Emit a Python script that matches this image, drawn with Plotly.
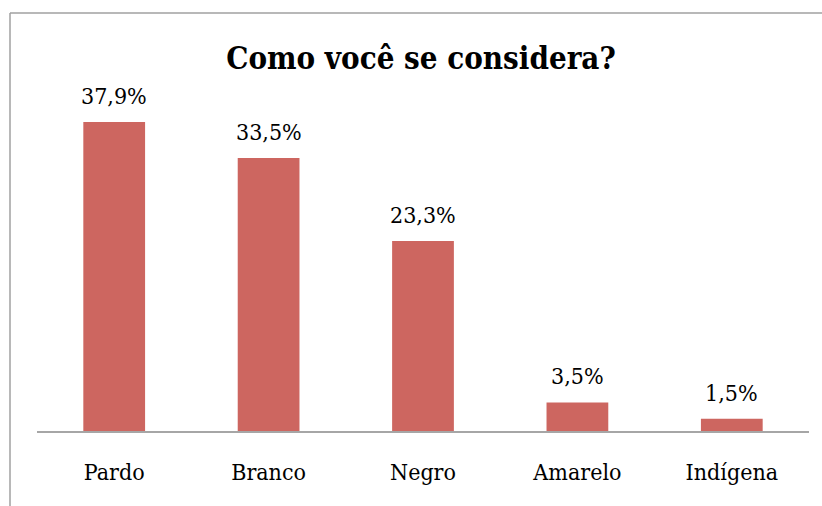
import plotly.graph_objects as go

categories = ["Pardo", "Branco", "Negro", "Amarelo", "Indígena"]
values = [37.9, 33.5, 23.3, 3.5, 1.5]
labels = [f"{v:.1f}%".replace(".", ",") for v in values]
title_text = "Como você se considera?"

W, H = 822, 506
ml, mr, mt, mb = 37, 13, 105, 75
pw, ph = W - ml - mr, H - mt - mb
def px_x(p):
    return (p - ml) / pw
def px_y(p):
    return (H - mb - p) / ph

font_family = "DejaVu Serif Condensed, DejaVu Serif"

fig = go.Figure()
fig.add_trace(go.Bar(
    x=categories, y=values,
    marker=dict(color="#CD6660", line=dict(width=0)),
    hoverinfo="skip",
))
for c, v, t in zip(categories, values, labels):
    fig.add_annotation(x=c, y=v, text=t, showarrow=False, yanchor="bottom",
                       yshift=11, font=dict(family=font_family, size=23, color="#000"))

fig.update_layout(
    width=W, height=H,
    margin=dict(l=ml, r=mr, t=mt, b=mb),
    paper_bgcolor="white", plot_bgcolor="white",
    bargap=0.6,
    showlegend=False,
    title=dict(text=f"<b>{title_text}</b>", x=421 / W, xanchor="center",
               y=1 - 58 / H, yanchor="middle",
               font=dict(family=font_family, size=31, color="#000")),
    xaxis=dict(showline=True, linecolor="#A6A6A6", linewidth=2, ticks="",
               tickfont=dict(family=font_family, size=23, color="#000"),
               ticklabelstandoff=19, showgrid=False, zeroline=False),
    yaxis=dict(range=[0, 40], visible=False, showgrid=False, zeroline=False),
    shapes=[
        dict(type="line", xref="paper", yref="paper", x0=px_x(10), x1=px_x(822),
             y0=px_y(13), y1=px_y(13), line=dict(color="#A0A0A0", width=1.5)),
        dict(type="line", xref="paper", yref="paper", x0=px_x(10), x1=px_x(10),
             y0=px_y(13), y1=px_y(506), line=dict(color="#A0A0A0", width=1.5)),
    ],
)
fig.write_html("out.html")
